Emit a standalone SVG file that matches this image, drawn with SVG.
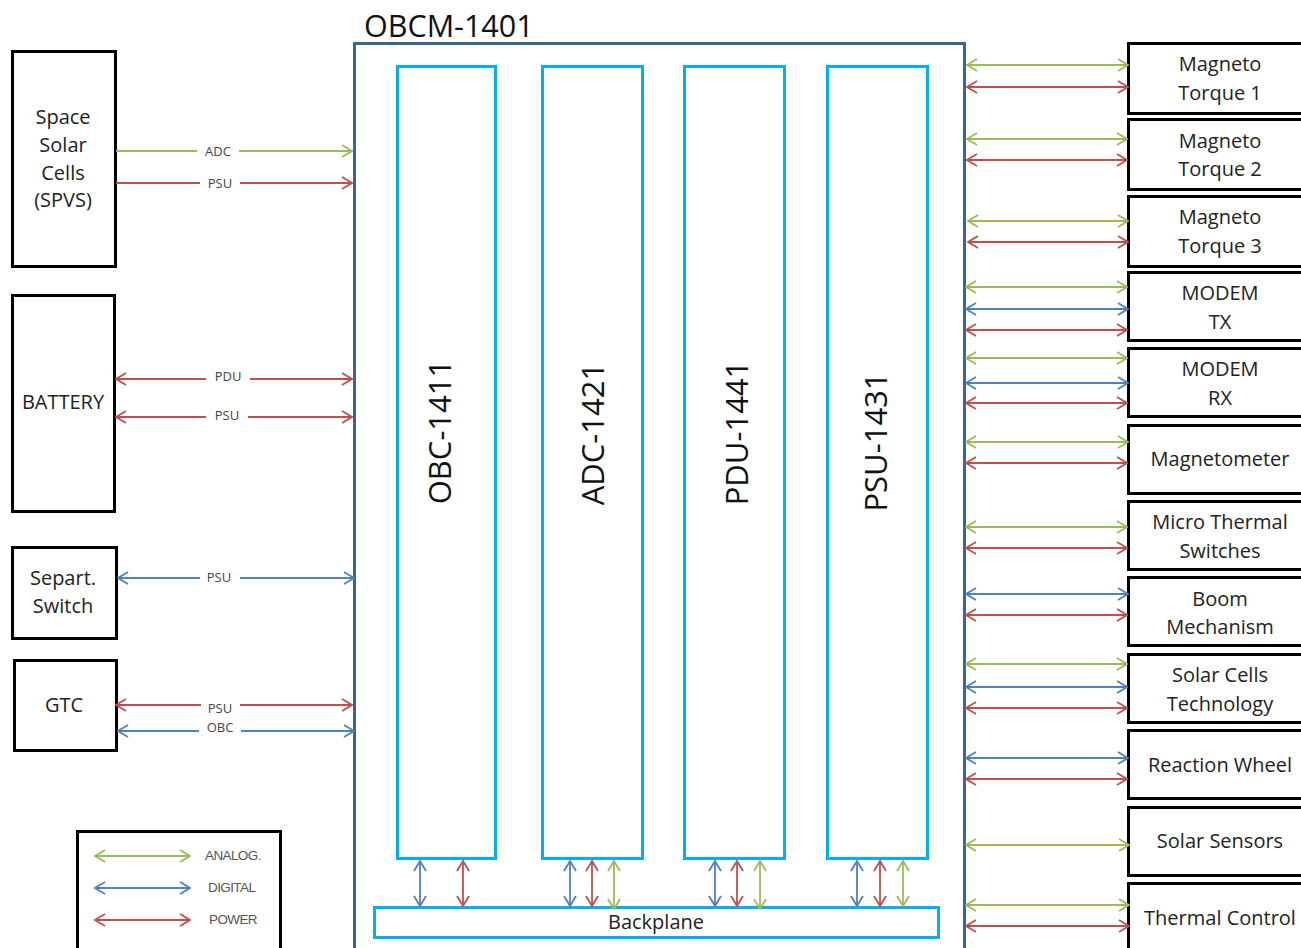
<svg xmlns="http://www.w3.org/2000/svg" width="1301" height="948" viewBox="0 0 1301 948">
<style>
.box{fill:#fff;stroke:#000;stroke-width:3}
.outer{fill:#fff;stroke:#3b6595;stroke-width:3}
.board{fill:#fff;stroke:#00b0f0;stroke-width:3}
.t{font-family:"Open Sans",sans-serif;font-size:20px;fill:#222;text-anchor:middle}
.rt{font-family:"Open Sans",sans-serif;font-size:31px;fill:#111;text-anchor:middle}
.lbl{font-family:"Open Sans",sans-serif;font-size:13px;fill:#444;text-anchor:middle}
.leg{font-family:"Liberation Sans",sans-serif;font-size:13.5px;fill:#555;letter-spacing:-0.6px}
.g{stroke:#9bbb59;stroke-width:1.8;fill:none}
.r{stroke:#c0504d;stroke-width:1.8;fill:none}
.b{stroke:#4f81bd;stroke-width:1.8;fill:none}
.g.bi{marker-start:url(#mg);marker-end:url(#mg)}
.r.bi{marker-start:url(#mr);marker-end:url(#mr)}
.b.bi{marker-start:url(#mb);marker-end:url(#mb)}
.g.one{marker-end:url(#mg)}
.r.one{marker-end:url(#mr)}
</style>
<defs>
<marker id="mg" viewBox="0 0 12 14" refX="11" refY="7" markerWidth="12" markerHeight="14" markerUnits="userSpaceOnUse" orient="auto-start-reverse"><path d="M1,1 L11,7 L1,13" fill="none" stroke="#9bbb59" stroke-width="1.8"/></marker>
<marker id="mr" viewBox="0 0 12 14" refX="11" refY="7" markerWidth="12" markerHeight="14" markerUnits="userSpaceOnUse" orient="auto-start-reverse"><path d="M1,1 L11,7 L1,13" fill="none" stroke="#c0504d" stroke-width="1.8"/></marker>
<marker id="mb" viewBox="0 0 12 14" refX="11" refY="7" markerWidth="12" markerHeight="14" markerUnits="userSpaceOnUse" orient="auto-start-reverse"><path d="M1,1 L11,7 L1,13" fill="none" stroke="#4f81bd" stroke-width="1.8"/></marker>
</defs>
<rect width="1301" height="948" fill="#fff"/>

<g id="obcm">
<rect class="outer" x="354.5" y="43.5" width="610" height="920"/>
<text x="364" y="37" font-family="Open Sans, sans-serif" font-size="30.5" fill="#111">OBCM-1401</text>
</g>
<g id="obc1411"><rect class="board" x="397.5" y="66.5" width="98" height="792"/><text class="rt" transform="translate(451,432) rotate(-90)">OBC-1411</text></g>
<g id="adc1421"><rect class="board" x="542.5" y="66.5" width="100" height="792"/><text class="rt" transform="translate(604,434) rotate(-90)">ADC-1421</text></g>
<g id="pdu1441"><rect class="board" x="684.5" y="66.5" width="100" height="792"/><text class="rt" transform="translate(748,433) rotate(-90)">PDU-1441</text></g>
<g id="psu1431"><rect class="board" x="827.5" y="66.5" width="100" height="792"/><text class="rt" transform="translate(887,442) rotate(-90)">PSU-1431</text></g>
<g id="backplane"><rect class="board" x="374.5" y="907.5" width="564" height="30"/><text class="t" x="656" y="929">Backplane</text></g>

<g id="spvs"><rect class="box" x="12.5" y="51.5" width="103" height="215"/><text class="t"><tspan x="63" y="124">Space</tspan><tspan x="63" y="152">Solar</tspan><tspan x="63" y="180">Cells</tspan><tspan x="63" y="207">(SPVS)</tspan></text></g>
<g id="battery"><rect class="box" x="12.5" y="295.5" width="102" height="216"/><text class="t" x="63" y="409">BATTERY</text></g>
<g id="separt"><rect class="box" x="12.5" y="547.5" width="104" height="91"/><text class="t"><tspan x="63" y="585">Separt.</tspan><tspan x="63" y="613">Switch</tspan></text></g>
<g id="gtc"><rect class="box" x="14.5" y="660.5" width="102" height="90"/><text class="t" x="64" y="712">GTC</text></g>

<g id="legend">
<rect class="box" x="77.5" y="831.5" width="203" height="130"/>
<line class="g bi" x1="95" y1="856" x2="190" y2="856"/>
<line class="b bi" x1="95" y1="888" x2="190" y2="888"/>
<line class="r bi" x1="95" y1="920" x2="190" y2="920"/>
<text class="leg" x="205" y="860">ANALOG.</text>
<text class="leg" x="208" y="892">DIGITAL</text>
<text class="leg" x="209" y="924">POWER</text>
</g>

<g id="mt1"><rect class="box" x="1128.5" y="43.5" width="180" height="70"/><text class="t"><tspan x="1220" y="71">Magneto</tspan><tspan x="1220" y="100">Torque 1</tspan></text></g>
<g id="mt2"><rect class="box" x="1128.5" y="119.5" width="180" height="70"/><text class="t"><tspan x="1220" y="148">Magneto</tspan><tspan x="1220" y="176">Torque 2</tspan></text></g>
<g id="mt3"><rect class="box" x="1128.5" y="196.5" width="180" height="70"/><text class="t"><tspan x="1220" y="224">Magneto</tspan><tspan x="1220" y="253">Torque 3</tspan></text></g>
<g id="modemtx"><rect class="box" x="1128.5" y="272.5" width="180" height="68"/><text class="t"><tspan x="1220" y="300">MODEM</tspan><tspan x="1220" y="329">TX</tspan></text></g>
<g id="modemrx"><rect class="box" x="1128.5" y="348.5" width="180" height="68"/><text class="t"><tspan x="1220" y="376">MODEM</tspan><tspan x="1220" y="405">RX</tspan></text></g>
<g id="magnetometer"><rect class="box" x="1128.5" y="425.5" width="180" height="68"/><text class="t" x="1220" y="466">Magnetometer</text></g>
<g id="mts"><rect class="box" x="1128.5" y="501.5" width="180" height="68"/><text class="t"><tspan x="1220" y="529">Micro Thermal</tspan><tspan x="1220" y="558">Switches</tspan></text></g>
<g id="boom"><rect class="box" x="1128.5" y="577.5" width="180" height="68"/><text class="t"><tspan x="1220" y="606">Boom</tspan><tspan x="1220" y="634">Mechanism</tspan></text></g>
<g id="sct"><rect class="box" x="1128.5" y="654.5" width="180" height="68"/><text class="t"><tspan x="1220" y="682">Solar Cells</tspan><tspan x="1220" y="711">Technology</tspan></text></g>
<g id="rw"><rect class="box" x="1128.5" y="730.5" width="180" height="68"/><text class="t" x="1220" y="772">Reaction Wheel</text></g>
<g id="ss"><rect class="box" x="1128.5" y="807.5" width="180" height="68"/><text class="t" x="1220" y="848">Solar Sensors</text></g>
<g id="tc"><rect class="box" x="1128.5" y="883.5" width="180" height="80"/><text class="t" x="1220" y="925">Thermal Control</text></g>

<g id="connectors">
<line class="g one" x1="116" y1="151" x2="352" y2="151"/>
<line class="r one" x1="116" y1="183" x2="352" y2="183"/>
<line class="r bi" x1="116" y1="379" x2="352" y2="379"/>
<line class="r bi" x1="116" y1="417" x2="352" y2="417"/>
<line class="b bi" x1="118" y1="578" x2="354" y2="578"/>
<line class="r bi" x1="116" y1="705" x2="352" y2="705"/>
<line class="b bi" x1="118" y1="731" x2="354" y2="731"/>
<g fill="#fff">
<rect x="197" y="143" width="42" height="16"/>
<rect x="200" y="175" width="40" height="16"/>
<rect x="206" y="371" width="44" height="16"/>
<rect x="206" y="409" width="42" height="16"/>
<rect x="200" y="570" width="40" height="16"/>
<rect x="201" y="697" width="39" height="16"/>
<rect x="199" y="720" width="42" height="14"/>
</g>
<text class="lbl" x="218" y="156">ADC</text>
<text class="lbl" x="220" y="188">PSU</text>
<text class="lbl" x="228" y="381">PDU</text>
<text class="lbl" x="227" y="420">PSU</text>
<text class="lbl" x="219" y="582">PSU</text>
<text class="lbl" x="220" y="713">PSU</text>
<text class="lbl" x="220" y="732">OBC</text>

<line class="b bi" x1="420" y1="861" x2="420" y2="906"/>
<line class="r bi" x1="463" y1="861" x2="463" y2="906"/>
<line class="b bi" x1="570" y1="861" x2="570" y2="906"/>
<line class="r bi" x1="592" y1="861" x2="592" y2="906"/>
<line class="g bi" x1="614" y1="861" x2="614" y2="909"/>
<line class="b bi" x1="715" y1="861" x2="715" y2="906"/>
<line class="r bi" x1="737" y1="861" x2="737" y2="906"/>
<line class="g bi" x1="760" y1="861" x2="760" y2="909"/>
<line class="b bi" x1="857" y1="861" x2="857" y2="906"/>
<line class="r bi" x1="880" y1="861" x2="880" y2="906"/>
<line class="g bi" x1="903" y1="861" x2="903" y2="906"/>

<line class="g bi" x1="967" y1="65" x2="1128" y2="65"/>
<line class="r bi" x1="967" y1="87" x2="1128" y2="87"/>
<line class="g bi" x1="967" y1="139" x2="1127" y2="139"/>
<line class="r bi" x1="967" y1="160" x2="1127" y2="160"/>
<line class="g bi" x1="968" y1="221" x2="1128" y2="221"/>
<line class="r bi" x1="968" y1="242" x2="1128" y2="242"/>
<line class="g bi" x1="966" y1="287" x2="1127" y2="287"/>
<line class="b bi" x1="966" y1="309" x2="1128" y2="309"/>
<line class="r bi" x1="966" y1="330" x2="1127" y2="330"/>
<line class="g bi" x1="966" y1="358" x2="1127" y2="358"/>
<line class="b bi" x1="966" y1="383" x2="1128" y2="383"/>
<line class="r bi" x1="966" y1="403" x2="1127" y2="403"/>
<line class="g bi" x1="966" y1="442" x2="1128" y2="442"/>
<line class="r bi" x1="966" y1="463" x2="1127" y2="463"/>
<line class="g bi" x1="966" y1="527" x2="1127" y2="527"/>
<line class="r bi" x1="966" y1="548" x2="1127" y2="548"/>
<line class="b bi" x1="966" y1="594" x2="1128" y2="594"/>
<line class="r bi" x1="966" y1="615" x2="1127" y2="615"/>
<line class="g bi" x1="966" y1="664" x2="1127" y2="664"/>
<line class="b bi" x1="966" y1="687" x2="1127" y2="687"/>
<line class="r bi" x1="966" y1="708" x2="1127" y2="708"/>
<line class="b bi" x1="966" y1="758" x2="1128" y2="758"/>
<line class="r bi" x1="966" y1="779" x2="1127" y2="779"/>
<line class="g bi" x1="966" y1="845" x2="1129" y2="845"/>
<line class="g bi" x1="966" y1="905" x2="1129" y2="905"/>
<line class="r bi" x1="966" y1="926" x2="1129" y2="926"/>
</g>
</svg>
